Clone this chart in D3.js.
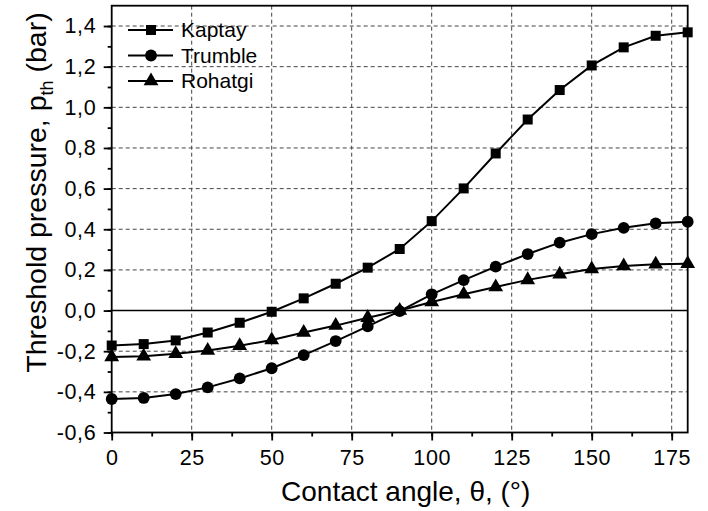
<!DOCTYPE html>
<html><head><meta charset="utf-8">
<script src="https://cdn.jsdelivr.net/npm/d3@7"></script>
<style>body{margin:0;background:#fff}svg{display:block}text{font-family:"Liberation Sans",Arial,sans-serif;fill:#000}</style>
</head><body>
<svg id="c" width="708" height="511"></svg>
<script>
const angles = [0,10,20,30,40,50,60,70,80,90,100,110,120,130,140,150,160,170,180];
const kaptay = [-0.172,-0.165,-0.147,-0.108,-0.06,-0.006,0.06,0.132,0.211,0.303,0.44,0.601,0.773,0.94,1.085,1.206,1.295,1.352,1.369];
const trumble = [-0.435,-0.43,-0.411,-0.378,-0.334,-0.284,-0.219,-0.15,-0.078,-0.003,0.08,0.15,0.216,0.278,0.334,0.376,0.407,0.429,0.437];
const rohatgi = [-0.228,-0.225,-0.213,-0.197,-0.173,-0.145,-0.108,-0.074,-0.035,0.0,0.042,0.08,0.116,0.151,0.179,0.204,0.219,0.228,0.23];
const seriesNames = ["Kaptay","Trumble","Rohatgi"];
const xTicks = [0,25,50,75,100,125,150,175];
const yTicks = [-0.6,-0.4,-0.2,0,0.2,0.4,0.6,0.8,1.0,1.2,1.4];
const xTitle = "Contact angle, θ, (°)";

const svg = d3.select("#c");
const L=111.7, R=687.7, T=5.7, B=432.5;
const x = d3.scaleLinear().domain([0,180]).range([L,R]);
const y = d3.scaleLinear().domain([-0.6,1.5]).range([B,T]);
const fmt = v => d3.format(".1f")(v).replace(".",",").replace("−","-");

// grid
const g = svg.append("g");
g.selectAll(".vg").data(xTicks.filter(v=>v>0)).enter().append("line")
 .attr("x1",d=>x(d)).attr("x2",d=>x(d)).attr("y1",T).attr("y2",B)
 .attr("stroke","#444").attr("stroke-width",1).attr("stroke-dasharray","4,3");
g.selectAll(".hg").data(yTicks.filter(v=>v!==0 && v>-0.6)).enter().append("line")
 .attr("x1",L).attr("x2",R).attr("y1",d=>y(d)).attr("y2",d=>y(d))
 .attr("stroke","#444").attr("stroke-width",1).attr("stroke-dasharray","4,3");
// zero line
svg.append("line").attr("x1",L).attr("x2",R).attr("y1",y(0)).attr("y2",y(0))
 .attr("stroke","#000").attr("stroke-width",1.5);

// frame
svg.append("rect").attr("x",L).attr("y",T).attr("width",R-L).attr("height",B-T)
 .attr("fill","none").attr("stroke","#000").attr("stroke-width",1.8);

// axes
const xMinor = d3.range(0,181,12.5);
const xa = svg.append("g").attr("transform",`translate(0,${B})`);
xa.call(d3.axisBottom(x).tickValues(xMinor).tickSize(4).tickFormat(""));
xa.select(".domain").remove();
const xaM = svg.append("g").attr("transform",`translate(0,${B})`);
xaM.call(d3.axisBottom(x).tickValues(xTicks).tickSize(8).tickFormat(d3.format("d")));
xaM.select(".domain").remove();
xaM.attr("font-size",21.5).attr("font-family","Liberation Sans, Arial, sans-serif");
xaM.selectAll("text").attr("font-size",21.5).style("letter-spacing","0.6px").attr("dy","0.71em").attr("y",17.5);

const yMinor = d3.range(-6,15,1).map(v=>v/10);
const ya = svg.append("g").attr("transform",`translate(${L},0)`);
ya.call(d3.axisLeft(y).tickValues(yMinor).tickSize(4).tickFormat(""));
ya.select(".domain").remove();
const yaM = svg.append("g").attr("transform",`translate(${L},0)`);
yaM.call(d3.axisLeft(y).tickValues(yTicks).tickSize(8).tickFormat(fmt));
yaM.select(".domain").remove();
yaM.attr("font-size",21.5).attr("font-family","Liberation Sans, Arial, sans-serif");
yaM.selectAll("text").attr("font-size",21.5).style("letter-spacing","0.6px").attr("x",-15.5);
svg.selectAll(".tick line").attr("stroke","#000").attr("stroke-width",1.8);

// titles
svg.append("text").attr("x",(L+R)/2+6).attr("y",501).attr("text-anchor","middle")
 .style("font-size","28px").text(xTitle);
const yt = svg.append("text").attr("transform","translate(46,192.5) rotate(-90)")
 .attr("text-anchor","middle").style("font-size","28.5px");
yt.append("tspan").text("Threshold pressure, p");
yt.append("tspan").attr("dy",7).style("font-size","18px").text("th");
yt.append("tspan").attr("dy",-7).text(" (bar)");

// series
const data = [kaptay,trumble,rohatgi];
const symbols = [d3.symbolSquare, d3.symbolCircle, d3.symbolTriangle];
const sizes = [100, 110, 95];
const line = d3.line().x((d,i)=>x(angles[i])).y(d=>y(d));
data.forEach((s,k)=>{
  svg.append("path").attr("d",line(s)).attr("fill","none").attr("stroke","#000").attr("stroke-width",2);
  svg.append("g").selectAll("path").data(s).enter().append("path")
   .attr("transform",(d,i)=>`translate(${x(angles[i])},${y(d)})`)
   .attr("d",d3.symbol().type(symbols[k]).size(sizes[k])).attr("fill","#000");
});

// legend
const lg = svg.append("g");
seriesNames.forEach((n,k)=>{
  const yy = 30 + k*25.5;
  lg.append("line").attr("x1",128).attr("x2",173).attr("y1",yy).attr("y2",yy).attr("stroke","#000").attr("stroke-width",2);
  lg.append("path").attr("transform",`translate(151,${yy})`).attr("d",d3.symbol().type(symbols[k]).size(sizes[k])).attr("fill","#000");
  lg.append("text").attr("x",181).attr("y",yy).attr("dy","0.35em").style("font-size","21px").text(n);
});
</script>
</body></html>
